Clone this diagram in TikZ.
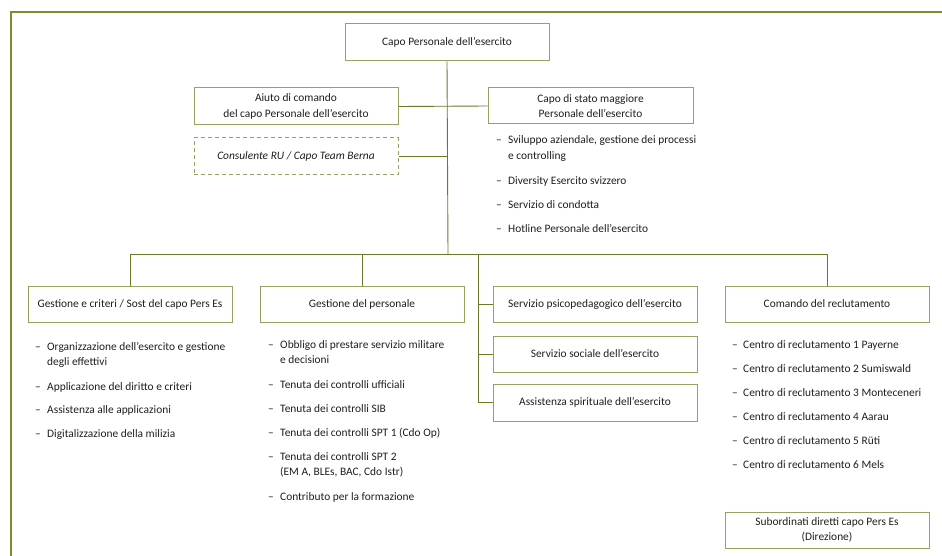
\documentclass[tikz,border=0pt]{standalone}
\usepackage{fontspec}
\setmainfont{Carlito}
\definecolor{framec}{RGB}{120,142,50}
\definecolor{linec}{RGB}{105,122,40}
\definecolor{boxc}{RGB}{150,162,95}
\definecolor{txtc}{RGB}{30,30,30}
\tikzset{
  box/.style={draw=boxc, line width=1pt, minimum width=204pt, minimum height=36pt, align=center, inner sep=0pt, text=txtc, font=\fontsize{11.4}{15.5}\selectfont},
  dbox/.style={box, dashed, dash pattern=on 4pt off 3pt},
  conn/.style={draw=linec, line width=0.9pt},
  dsh/.style={anchor=base west, inner sep=0pt, text=txtc, font=\fontsize{11.4}{15.5}\selectfont},
  itm/.style={anchor=base west, inner sep=0pt, text=txtc, align=left, font=\fontsize{11.4}{15.5}\selectfont},
}
\begin{document}
\begin{tikzpicture}[x=1pt,y=-1pt]
\useasboundingbox (0,0) rectangle (942,556);
% frame
\draw[draw=framec, line width=1.6pt] (11,556) -- (11,12) -- (942,12);

% boxes
\node[box, minimum height=37pt] (top) at (447,42.5) {Capo Personale dell'esercito};
\node[box, minimum height=37pt] (aiuto) at (296,106.5) {Aiuto di comando\\del capo Personale dell'esercito};
\node[box, minimum width=205pt] (sm) at (590.5,106) {Capo di stato maggiore\\Personale dell'esercito};
\node[dbox, minimum height=37pt] (cons) at (296,156.5) {\itshape Consulente RU / Capo Team Berna};
\node[box] (gc) at (130,304) {Gestione e criteri / Sost del capo Pers Es};
\node[box] (gp) at (362,304) {Gestione del personale};
\node[box] (psy) at (595,304) {Servizio psicopedagogico dell'esercito};
\node[box] (soc) at (595,354) {Servizio sociale dell'esercito};
\node[box, minimum height=37pt] (spi) at (595,402.5) {Assistenza spirituale dell'esercito};
\node[box] (rec) at (827,304) {Comando del reclutamento};
\node[box] (sub) at (827,530) {Subordinati diretti capo Pers Es\\(Direzione)};

% connector coordinates
\coordinate (bus) at (448,254);
\coordinate (busL) at (130,254);
\coordinate (busR) at (827,254);
\coordinate (svtop) at (478,254);
\coordinate (svbot) at (478,402.5);
\coordinate (jcons) at (448,156.5);

\draw[conn] (top.south) -- (bus);
\draw[conn] (aiuto.east) -- (sm.west);
\draw[conn] (cons.east) -- (jcons);
\draw[conn] (gc.north) -- (busL) -- (busR) -- (rec.north);
\draw[conn] (gp.north) -- (gp.north |- bus);
\draw[conn] (svtop) -- (svbot) -- (spi.west);
\draw[conn] (psy.west) -- (psy.west -| svtop);
\draw[conn] (soc.west) -- (soc.west -| svtop);

% SM list (multi-line nodes: base = last line)
\node[dsh] (smd1) at (496,144) {--}; \node[itm] (smt1) at (508,159.5) {Sviluppo aziendale, gestione dei processi\\e controlling};
\node[dsh] (smd2) at (496,185) {--}; \node[itm] (smt2) at (508,185) {Diversity Esercito svizzero};
\node[dsh] (smd3) at (496,209) {--}; \node[itm] (smt3) at (508,209) {Servizio di condotta};
\node[dsh] (smd4) at (496,233) {--}; \node[itm] (smt4) at (508,233) {Hotline Personale dell'esercito};

% GC list
\node[dsh] (gcd1) at (35,350) {--}; \node[itm] (gct1) at (47,365.5) {Organizzazione dell'esercito e gestione\\degli effettivi};
\node[dsh] (gcd2) at (35,390) {--}; \node[itm] (gct2) at (47,390) {Applicazione del diritto e criteri};
\node[dsh] (gcd3) at (35,413) {--}; \node[itm] (gct3) at (47,413) {Assistenza alle applicazioni};
\node[dsh] (gcd4) at (35,437) {--}; \node[itm] (gct4) at (47,437) {Digitalizzazione della milizia};

% GP list
\node[dsh] (gpd1) at (268,348) {--}; \node[itm] (gpt1) at (280,363.5) {Obbligo di prestare servizio militare\\e decisioni};
\node[dsh] (gpd2) at (268,388) {--}; \node[itm] (gpt2) at (280,388) {Tenuta dei controlli ufficiali};
\node[dsh] (gpd3) at (268,412) {--}; \node[itm] (gpt3) at (280,412) {Tenuta dei controlli SIB};
\node[dsh] (gpd4) at (268,436) {--}; \node[itm] (gpt4) at (280,436) {Tenuta dei controlli SPT 1 (Cdo Op)};
\node[dsh] (gpd5) at (268,460) {--}; \node[itm] (gpt5) at (280,475.5) {Tenuta dei controlli SPT 2\\(EM A, BLEs, BAC, Cdo Istr)};
\node[dsh] (gpd6) at (268,500) {--}; \node[itm] (gpt6) at (280,500) {Contributo per la formazione};

% Rec list
\node[dsh] (rcd1) at (732,348) {--}; \node[itm] (rct1) at (743,348) {Centro di reclutamento 1 Payerne};
\node[dsh] (rcd2) at (732,372) {--}; \node[itm] (rct2) at (743,372) {Centro di reclutamento 2 Sumiswald};
\node[dsh] (rcd3) at (732,396) {--}; \node[itm] (rct3) at (743,396) {Centro di reclutamento 3 Monteceneri};
\node[dsh] (rcd4) at (732,420) {--}; \node[itm] (rct4) at (743,420) {Centro di reclutamento 4 Aarau};
\node[dsh] (rcd5) at (732,444) {--}; \node[itm] (rct5) at (743,444) {Centro di reclutamento 5 Rüti};
\node[dsh] (rcd6) at (732,468) {--}; \node[itm] (rct6) at (743,468) {Centro di reclutamento 6 Mels};
\end{tikzpicture}
\end{document}
